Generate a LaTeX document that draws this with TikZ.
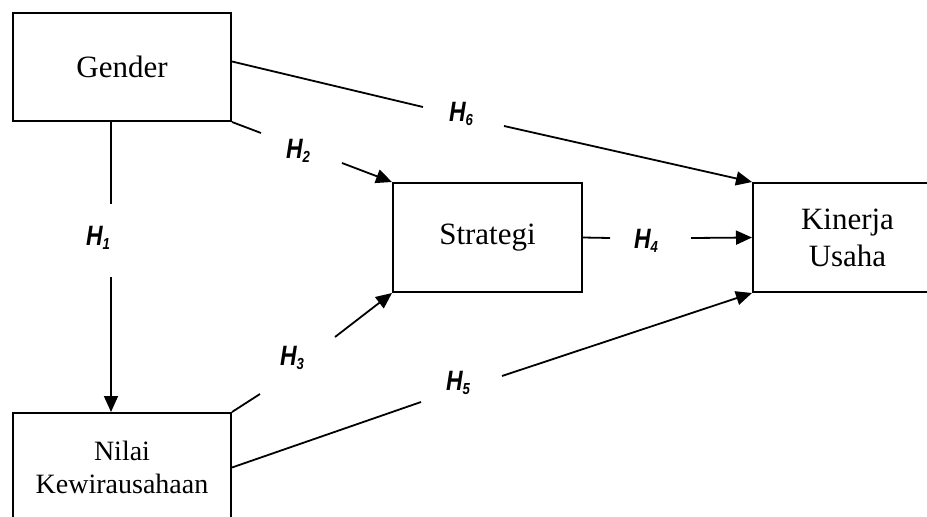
\documentclass[tikz,border=0pt]{standalone}
\usepackage{fontspec}
\setmainfont{Liberation Serif}
\newfontfamily\hfont{Liberation Sans}
\usetikzlibrary{arrows.meta,calc}
\tikzset{
  box/.style={draw=black, line width=2pt, fill=white, inner sep=0pt, align=center},
  link/.style={line width=1.8pt, draw=black},
  arr/.style={link, -{Triangle[length=16pt,width=14pt]}},
  hlab/.style={inner sep=0pt}
}
\newcommand{\hyp}[1]{{\hfont\bfseries\itshape\fontsize{28}{30}\selectfont\scalebox{0.82}[1]{H\raisebox{-4pt}{\fontsize{16}{16}\selectfont #1}}}}
\begin{document}
\begin{tikzpicture}[x=1pt,y=-1pt]
\useasboundingbox (0,0) rectangle (927,517);
\clip (0,0) rectangle (927,517);
\fill[white] (0,0) rectangle (927,517);
% boxes
\node[box, minimum width=218pt, minimum height=108pt, font=\fontsize{31}{37}\selectfont] (gender) at (122,67) {Gender};
\node[box, minimum width=218pt, minimum height=109pt, font=\fontsize{28}{33}\selectfont] (nilai) at (122,467.5) {Nilai\\Kewirausahaan};
\node[box, minimum width=189pt, minimum height=109pt, font=\fontsize{31}{37}\selectfont] (strategi) at (487.5,237.5) {Strategi};
\node[box, minimum width=189pt, minimum height=109pt, font=\fontsize{31}{37}\selectfont] (kinerja) at (847.5,237.5) {Kinerja\\Usaha};
% labels
\node[hlab] (h1) at (98,238) {\hyp{1}};
\node[hlab] (h2) at (298,151) {\hyp{2}};
\node[hlab] (h3) at (292,358) {\hyp{3}};
\node[hlab] (h4) at (646,241) {\hyp{4}};
\node[hlab] (h5) at (458,383) {\hyp{5}};
\node[hlab] (h6) at (461,114) {\hyp{6}};
% gap coordinates
\coordinate (g1a) at (111,204); \coordinate (g1b) at (111,277);
\coordinate (g2a) at (261,133); \coordinate (g2b) at (342,163);
\coordinate (g3a) at (260,394); \coordinate (g3b) at (335,337);
\coordinate (g4a) at (610,238); \coordinate (g4b) at (691,238);
\coordinate (g5a) at (421,402); \coordinate (g5b) at (502,376);
\coordinate (g6a) at (423,107); \coordinate (g6b) at (504,126);
% connectors
\draw[link] (gender.south -| g1a) -- (g1a);
\draw[arr] (g1b) -- (nilai.north -| g1b);
\draw[link] (gender.south east) -- (g2a);
\draw[arr] (g2b) -- (strategi.north west);
\draw[link] (nilai.north east) -- (g3a);
\draw[arr] (g3b) -- (strategi.south west);
\draw[link] (strategi.east) -- (g4a);
\draw[arr] (g4b) -- (kinerja.west);
\draw[link] (nilai.east) -- (g5a);
\draw[arr] (g5b) -- (kinerja.south west);
\draw[link] ($(gender.north east)!0.45!(gender.south east)$) -- (g6a);
\draw[arr] (g6b) -- (kinerja.north west);
\end{tikzpicture}
\end{document}
